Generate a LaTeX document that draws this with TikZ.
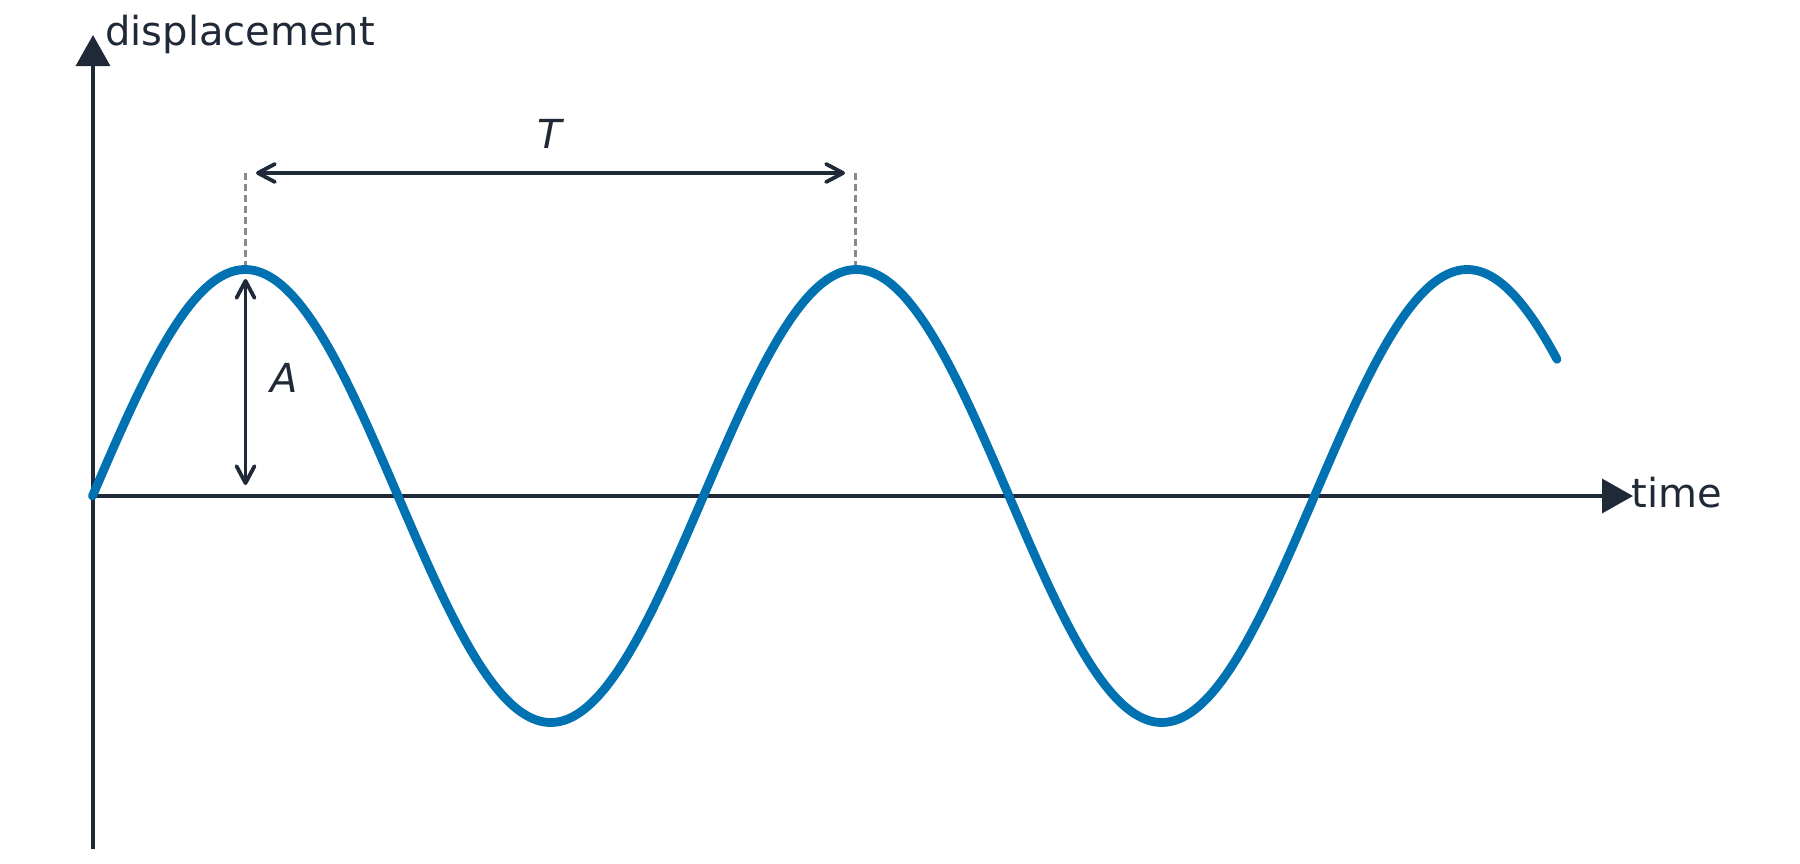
\documentclass[tikz,border=0pt]{standalone}
\usepackage{fontspec}
\setmainfont{DejaVu Sans}
\usetikzlibrary{arrows.meta}
\definecolor{ink}{HTML}{1F2937}
\definecolor{wave}{HTML}{0072B2}
\definecolor{guide}{HTML}{858A93}
\tikzset{
  axisline/.style={draw=ink, line width=1.7pt, -{Triangle[length=15.5pt,width=17pt]}},
  dimline/.style={draw=ink, line width=1.9pt, {Straight Barb[length=8.5pt,width=9pt,round]}-{Straight Barb[length=8.5pt,width=9pt,round]}},
  guideline/.style={draw=guide, line width=1.5pt, dash pattern=on 3.5pt off 2pt},
  waveline/.style={draw=wave, line width=4.4pt, line cap=round, line join=round},
  lbl/.style={inner sep=0pt, text=ink, font=\fontsize{20pt}{24pt}\selectfont},
  ilbl/.style={lbl, font=\fontsize{20pt}{24pt}\selectfont\itshape},
}
\begin{document}
\begin{tikzpicture}[x=0.5pt, y=-0.5pt]
\useasboundingbox (0,0) rectangle (1800,863);
\fill[white] (0,0) rectangle (1800,863);
% coordinates
\coordinate (origin) at (93,496);
\coordinate (ybot) at (93,849);
\coordinate (ytop) at (93,35);
\coordinate (xtip) at (1633,496);
\coordinate (p1top) at (245.5,173);
\coordinate (p2top) at (855,173);
\coordinate (p1cap) at (245.5,266);
\coordinate (p2cap) at (855,266);
\coordinate (Ttop) at (245.5,279);
\coordinate (Tbot) at (245.5,485);
\coordinate (Tl) at (256,173);
\coordinate (Tr) at (845,173);
% axes
\draw[axisline] (ybot) -- (ytop);
\draw[axisline] (origin) -- (xtip);
% guides
\draw[guideline] (p1top) -- (p1cap);
\draw[guideline] (p2top) -- (p2cap);
% wave
\draw[waveline] plot[domain=92.5:1557, samples=400, smooth] (\x, {496-226.5*sin((\x-92.5)/611*360)});
% dimension arrows
\draw[dimline] (Tl) -- (Tr);
\draw[dimline] (Ttop) -- (Tbot);
% labels
\node[lbl, anchor=base west] (ylabel) at (105,45) {displacement};
\node[lbl, anchor=base west] (xlabel) at (1631,507) {time};
\node[ilbl, anchor=base] (Tlabel) at (550,148) {T};
\node[ilbl, anchor=base] (Alabel) at (284,392) {A};
\end{tikzpicture}
\end{document}
